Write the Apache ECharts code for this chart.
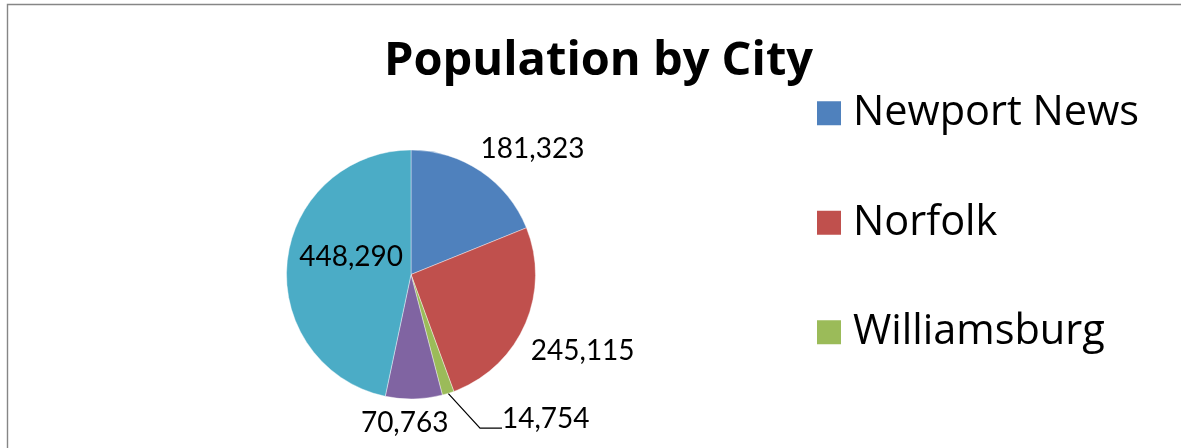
<!DOCTYPE html>
<html>
<head>
<meta charset="utf-8">
<script src="https://cdn.jsdelivr.net/npm/echarts@6/dist/echarts.min.js"></script>
<style>
  html, body { margin: 0; padding: 0; background: #fff; }
  #chart { width: 1181px; height: 448px; }
</style>
</head>
<body>
<div id="chart"></div>
<script>
// Population by city
const cities = ['Newport News', 'Norfolk', 'Williamsburg', 'Suffolk', 'Virginia Beach'];
const population = [181323, 245115, 14754, 70763, 448290];
const legendCities = ['Newport News', 'Norfolk', 'Williamsburg'];
const sliceColors = ['#4F81BD', '#C0504D', '#9BBB59', '#8064A2', '#4BACC6'];

// Label nudges (dx, dy) per slice, in pixels
const labelNudge = [[0, -22], [6, 26], [-13, 0], [-53, 24], [5, -11]];
// The thin slice gets a leader line
const LEADER_INDEX = 2;

const LABEL_FONT = 'Lato, "Open Sans", sans-serif';
const HEAD_FONT = '"Open Sans", Lato, sans-serif';

const fmt = v => v.toLocaleString('en-US');

const data = cities.map((name, i) => {
  const item = { name: name, value: population[i], itemStyle: { color: sliceColors[i] } };
  if (i === LEADER_INDEX) {
    item.labelLine = { show: true, length: 36.4, length2: 22, lineStyle: { color: '#000', width: 1.2 } };
    item.label = {
      distanceToLabelLine: 8,
      padding: [0, 0, 0, 13],
      // a short empty second line keeps the leader line level with the text baseline
      formatter: p => fmt(p.value) + '\n{gap| }',
      rich: { gap: { fontSize: 1, lineHeight: 19, height: 19 } }
    };
  }
  if (i === 4) {
    item.label = { position: 'inside' };
  }
  return item;
});

const chart = echarts.init(document.getElementById('chart'), null, { renderer: 'canvas' });
chart.setOption({
  backgroundColor: '#fff',
  animation: false,
  graphic: [{
    type: 'rect',
    shape: { x: 7.5, y: 4.5, width: 1300, height: 600 },
    style: { fill: 'none', stroke: '#868686', lineWidth: 1.4 },
    silent: true
  }],
  title: {
    text: 'Population by City',
    left: 384,
    top: 38,
    padding: 0,
    textStyle: { fontFamily: HEAD_FONT, fontSize: 47, fontWeight: 'bold', color: '#000', lineHeight: 47 }
  },
  legend: {
    data: legendCities,
    orient: 'vertical',
    left: 815,
    top: 90,
    padding: 0,
    itemWidth: 26,
    itemHeight: 26,
    itemGap: 63,
    icon: 'rect',
    selectedMode: false,
    textStyle: { fontFamily: HEAD_FONT, fontSize: 41.5, color: '#000', lineHeight: 41.5, padding: [5, 0, 0, 6] }
  },
  series: [{
    type: 'pie',
    center: [411, 274.5],
    radius: 124.5,
    startAngle: 90,
    clockwise: true,
    avoidLabelOverlap: false,
    itemStyle: { borderColor: '#fff', borderWidth: 0.4 },
    label: {
      show: true,
      position: 'outside',
      formatter: p => fmt(p.value),
      fontFamily: LABEL_FONT,
      fontSize: 28,
      color: '#000',
      distanceToLabelLine: 0
    },
    labelLine: { show: false, length: 0, length2: 0 },
    labelLayout: p => {
      const n = labelNudge[p.dataIndex];
      if (p.dataIndex === LEADER_INDEX) {
        // place the label explicitly so the leader line re-routes to its nearest edge
        const r = p.labelRect;
        return { x: r.x + n[0], y: r.y + r.height / 2 + n[1] };
      }
      return { dx: n[0], dy: n[1] };
    },
    emphasis: { disabled: true },
    data: data
  }]
});
</script>
</body>
</html>
